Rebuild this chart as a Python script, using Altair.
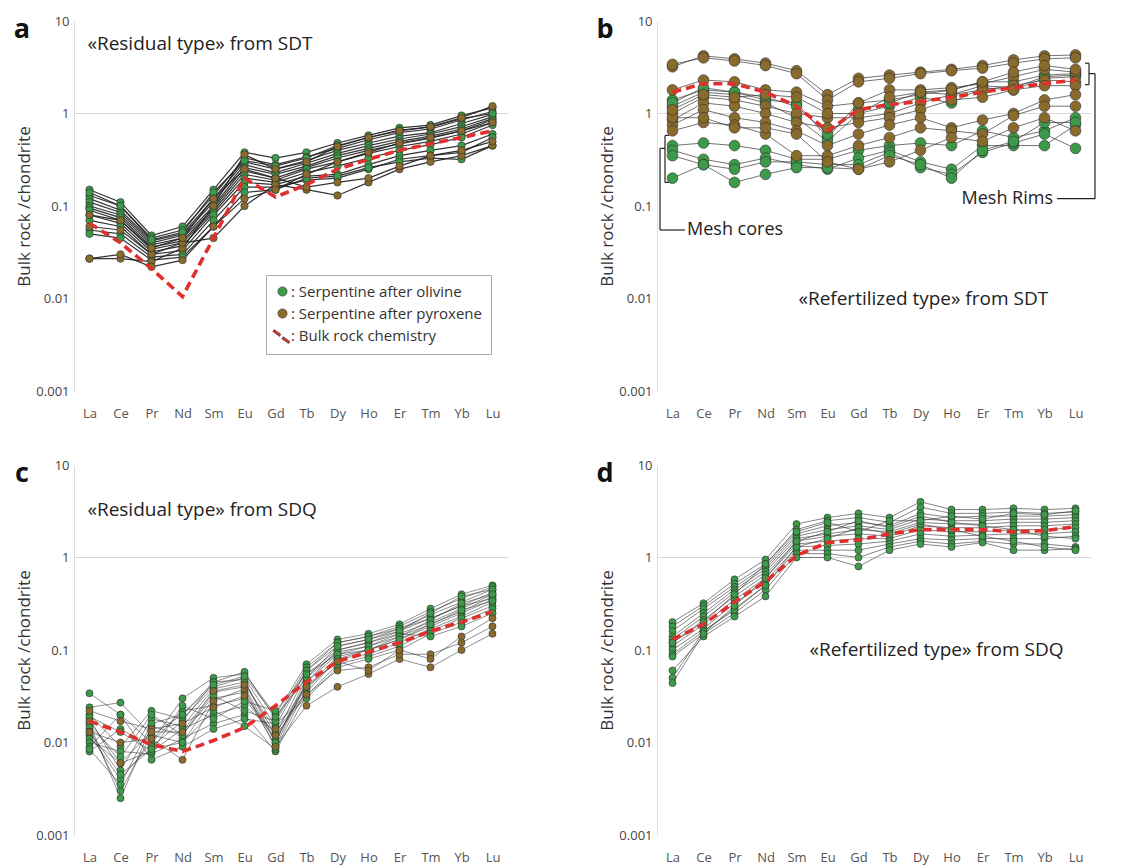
import altair as alt
import pandas as pd

FONT = "Open Sans"
REE = ["La", "Ce", "Pr", "Nd", "Sm", "Eu", "Gd", "Tb", "Dy", "Ho", "Er", "Tm", "Yb", "Lu"]
LAB_OL = "Serpentine after olivine"
LAB_PX = "Serpentine after pyroxene"
LAB_BULK = "Bulk rock chemistry"
GREEN = "#3d9a49"
BROWN = "#8a6b2e"
RED = "#e0302e"
DASH_PATH = ("M-1.8,-1.3 L-0.35,-0.25 L-0.65,0.2 L-2.1,-0.85 Z "
             "M0.15,0.25 L1.6,1.3 L1.3,1.75 L-0.15,0.7 Z")

# ---------------- panel a : «Residual type» from SDT ----------------
A_OL = [
    [0.15, 0.11, 0.048, 0.06, 0.15, 0.38, 0.33, 0.38, 0.48, 0.58, 0.70, 0.75, 0.95, 1.15],
    [0.13, 0.10, 0.045, 0.055, 0.13, 0.33, 0.28, 0.34, 0.42, 0.52, 0.62, 0.68, 0.85, 1.05],
    [0.12, 0.09, 0.042, 0.05, 0.12, 0.30, 0.25, 0.31, 0.40, 0.48, 0.57, 0.62, 0.78, 0.98],
    [0.11, 0.085, 0.04, 0.048, 0.11, 0.28, 0.23, 0.29, 0.37, 0.45, 0.53, 0.60, 0.72, 0.92],
    [0.10, 0.08, 0.038, 0.045, 0.10, 0.26, 0.22, 0.27, 0.35, 0.42, 0.50, 0.57, 0.68, 0.88],
    [0.095, 0.075, 0.036, 0.042, 0.095, 0.24, 0.20, 0.26, 0.33, 0.40, 0.47, 0.54, 0.65, 0.85],
    [0.09, 0.07, 0.034, 0.04, 0.09, 0.22, 0.19, 0.25, 0.30, 0.37, 0.44, 0.50, 0.60, 0.80],
    [0.08, 0.065, 0.032, 0.037, 0.085, 0.20, 0.18, 0.23, 0.27, 0.33, 0.40, 0.46, 0.55, 0.75],
    [0.07, 0.06, 0.030, 0.033, 0.08, 0.18, 0.17, 0.21, 0.22, 0.28, 0.35, 0.40, 0.45, 0.60],
    [0.055, 0.05, 0.028, 0.03, 0.07, 0.16, 0.16, 0.19, 0.20, 0.25, 0.32, 0.35, 0.38, 0.55],
    [0.05, 0.045, 0.026, 0.028, 0.06, 0.14, 0.15, 0.20, 0.21, 0.26, 0.30, 0.33, 0.32, 0.45],
    [0.14, 0.10, 0.043, 0.052, 0.14, 0.31, 0.27, 0.33, 0.45, 0.55, 0.66, 0.71, 0.88, 1.00],
]
A_PX = [
    [0.027, 0.027, 0.025, 0.035, 0.10, 0.36, 0.25, 0.30, 0.44, 0.55, 0.65, 0.72, 0.90, 1.20],
    [0.06, 0.055, 0.03, 0.04, 0.045, 0.10, 0.17, 0.15, 0.13, 0.18, 0.25, 0.30, 0.35, 0.45],
    [0.08, 0.07, 0.035, 0.045, 0.12, 0.25, 0.20, 0.16, 0.18, 0.20, 0.27, 0.35, 0.40, 0.50],
    [0.027, 0.03, 0.022, 0.026, 0.06, 0.12, 0.15, 0.22, 0.30, 0.38, 0.48, 0.55, 0.65, 0.80],
]
A_BULK = [0.065, 0.04, 0.021, 0.0105, 0.045, 0.2, 0.125, 0.17, 0.25, 0.32, 0.4, 0.47, 0.55, 0.65]

# ---------------- panel b : «Refertilized type» from SDT ----------------
B_OL = [
    [1.4, 1.8, 1.7, 1.4, 1.3, 0.55, 1.3, 1.4, 1.6, 1.8, 2.2, 2.2, 2.6, 2.7],
    [1.2, 1.7, 1.6, 1.3, 0.9, 0.5, 1.0, 1.2, 1.5, 1.3, 1.9, 1.8, 2.4, 2.5],
    [1.3, 1.9, 1.7, 1.5, 1.2, 0.6, 1.1, 1.3, 1.7, 1.6, 2.0, 1.9, 2.5, 2.6],
    [0.45, 0.48, 0.45, 0.40, 0.32, 0.32, 0.40, 0.45, 0.48, 0.45, 0.65, 0.55, 0.65, 0.9],
    [0.40, 0.32, 0.28, 0.33, 0.28, 0.25, 0.33, 0.40, 0.30, 0.25, 0.45, 0.45, 0.45, 0.75],
    [0.35, 0.28, 0.25, 0.30, 0.30, 0.28, 0.28, 0.38, 0.26, 0.22, 0.38, 0.48, 0.60, 0.42],
    [0.20, 0.28, 0.18, 0.22, 0.26, 0.26, 0.25, 0.35, 0.28, 0.20, 0.40, 0.50, 0.80, 0.80],
]
B_PX = [
    [3.2, 4.2, 3.9, 3.5, 2.9, 1.6, 2.4, 2.6, 2.8, 3.0, 3.3, 3.8, 4.2, 4.3],
    [3.4, 4.0, 3.7, 3.3, 2.7, 1.4, 2.2, 2.4, 2.7, 2.9, 3.1, 3.5, 3.9, 4.0],
    [1.8, 2.3, 2.2, 1.8, 1.7, 1.2, 1.3, 1.8, 1.8, 1.9, 2.1, 2.5, 3.0, 2.8],
    [1.0, 1.5, 1.4, 1.2, 1.0, 0.9, 0.9, 1.0, 1.3, 1.6, 1.8, 2.0, 2.3, 2.2],
    [0.85, 1.3, 1.2, 1.0, 0.8, 0.7, 0.8, 0.9, 1.1, 1.4, 1.5, 1.8, 2.0, 2.0],
    [0.75, 1.1, 0.9, 0.8, 0.65, 0.45, 0.6, 0.75, 0.9, 0.7, 0.85, 1.0, 1.4, 1.6],
    [0.65, 0.8, 0.75, 0.6, 0.35, 0.35, 0.45, 0.55, 0.7, 0.65, 0.6, 0.95, 1.2, 1.2],
    [0.9, 0.9, 0.7, 0.7, 0.6, 0.3, 0.25, 0.3, 0.4, 0.55, 0.5, 0.7, 0.9, 0.65],
    [1.1, 1.6, 1.5, 1.6, 1.5, 1.0, 1.0, 1.5, 1.7, 1.8, 2.2, 2.8, 3.3, 3.0],
]
B_BULK = [1.7, 2.1, 2.1, 1.7, 1.2, 0.65, 1.1, 1.25, 1.35, 1.5, 1.7, 1.9, 2.1, 2.3]

# ---------------- panel c : «Residual type» from SDQ ----------------
C_OL = [
    [0.034, 0.020, 0.010, 0.030, 0.050, 0.055, 0.020, 0.070, 0.13, 0.15, 0.19, 0.28, 0.40, 0.50],
    [0.024, 0.027, 0.012, 0.020, 0.045, 0.058, 0.018, 0.065, 0.12, 0.14, 0.18, 0.26, 0.36, 0.48],
    [0.020, 0.009, 0.022, 0.018, 0.040, 0.050, 0.015, 0.060, 0.11, 0.13, 0.17, 0.24, 0.33, 0.45],
    [0.018, 0.005, 0.018, 0.015, 0.038, 0.045, 0.012, 0.055, 0.10, 0.12, 0.16, 0.22, 0.30, 0.42],
    [0.016, 0.0025, 0.015, 0.012, 0.035, 0.040, 0.010, 0.050, 0.095, 0.11, 0.15, 0.20, 0.28, 0.40],
    [0.014, 0.003, 0.012, 0.010, 0.030, 0.035, 0.009, 0.045, 0.09, 0.10, 0.14, 0.19, 0.26, 0.38],
    [0.012, 0.004, 0.010, 0.022, 0.025, 0.030, 0.011, 0.040, 0.085, 0.10, 0.13, 0.18, 0.25, 0.35],
    [0.011, 0.006, 0.008, 0.014, 0.020, 0.025, 0.013, 0.035, 0.08, 0.09, 0.12, 0.17, 0.23, 0.33],
    [0.010, 0.008, 0.0075, 0.011, 0.016, 0.020, 0.008, 0.032, 0.07, 0.085, 0.11, 0.16, 0.22, 0.30],
    [0.009, 0.020, 0.0065, 0.009, 0.014, 0.018, 0.016, 0.030, 0.065, 0.08, 0.10, 0.15, 0.20, 0.28],
    [0.008, 0.014, 0.009, 0.017, 0.045, 0.048, 0.010, 0.045, 0.10, 0.12, 0.15, 0.14, 0.18, 0.25],
    [0.015, 0.007, 0.020, 0.012, 0.032, 0.022, 0.017, 0.060, 0.12, 0.14, 0.17, 0.22, 0.30, 0.36],
    [0.0085, 0.0035, 0.016, 0.020, 0.042, 0.052, 0.019, 0.050, 0.11, 0.13, 0.16, 0.25, 0.38, 0.45],
    [0.019, 0.013, 0.008, 0.025, 0.018, 0.028, 0.022, 0.055, 0.09, 0.11, 0.14, 0.21, 0.32, 0.40],
    [0.013, 0.0045, 0.0085, 0.010, 0.022, 0.015, 0.0085, 0.038, 0.08, 0.10, 0.13, 0.19, 0.27, 0.34],
]
C_PX = [
    [0.013, 0.010, 0.011, 0.0065, 0.028, 0.038, 0.009, 0.025, 0.04, 0.055, 0.08, 0.065, 0.10, 0.15],
    [0.022, 0.017, 0.014, 0.016, 0.024, 0.032, 0.012, 0.033, 0.06, 0.065, 0.09, 0.09, 0.12, 0.18],
    [0.017, 0.006, 0.013, 0.013, 0.036, 0.042, 0.014, 0.040, 0.075, 0.06, 0.10, 0.08, 0.14, 0.22],
]
C_BULK = [0.017, 0.013, 0.0095, 0.008, 0.0105, 0.0145, 0.025, 0.045, 0.075, 0.095, 0.12, 0.16, 0.2, 0.26]

# ---------------- panel d : «Refertilized type» from SDQ ----------------
D_OL = [
    [0.20, 0.32, 0.58, 0.95, 2.3, 2.7, 3.0, 2.7, 4.0, 3.3, 3.3, 3.4, 3.3, 3.4],
    [0.18, 0.30, 0.52, 0.85, 2.0, 2.5, 2.7, 2.4, 3.5, 3.0, 3.0, 3.1, 3.0, 3.1],
    [0.16, 0.28, 0.48, 0.80, 1.8, 2.2, 2.4, 2.2, 3.0, 2.7, 2.8, 2.8, 2.8, 2.9],
    [0.14, 0.25, 0.45, 0.75, 1.7, 2.0, 2.2, 2.0, 2.6, 2.5, 2.5, 2.6, 2.6, 2.7],
    [0.13, 0.23, 0.42, 0.70, 1.6, 1.8, 2.0, 1.9, 2.4, 2.3, 2.3, 2.4, 2.4, 2.5],
    [0.12, 0.21, 0.38, 0.65, 1.5, 1.7, 1.8, 1.7, 2.2, 2.1, 2.1, 2.2, 2.2, 2.3],
    [0.11, 0.19, 0.35, 0.60, 1.4, 1.5, 1.6, 1.6, 2.0, 1.9, 1.9, 2.0, 2.0, 2.1],
    [0.10, 0.17, 0.32, 0.55, 1.3, 1.35, 1.4, 1.5, 1.8, 1.7, 1.75, 1.8, 1.8, 1.9],
    [0.09, 0.16, 0.28, 0.50, 1.2, 1.2, 1.2, 1.4, 1.6, 1.55, 1.6, 1.6, 1.6, 1.7],
    [0.085, 0.15, 0.25, 0.45, 1.1, 1.1, 1.0, 1.3, 1.5, 1.4, 1.5, 1.4, 1.4, 1.3],
    [0.06, 0.14, 0.23, 0.38, 1.0, 1.0, 0.8, 1.2, 1.4, 1.3, 1.45, 1.2, 1.2, 1.25],
    [0.05, 0.16, 0.27, 0.50, 1.3, 1.6, 2.1, 1.8, 2.3, 2.0, 1.7, 1.5, 1.3, 1.2],
    [0.044, 0.15, 0.30, 0.60, 1.5, 1.9, 2.5, 2.1, 2.8, 2.4, 2.2, 2.0, 1.7, 1.6],
    [0.12, 0.20, 0.40, 0.85, 1.9, 2.4, 1.9, 2.5, 2.5, 2.8, 2.6, 3.0, 2.9, 3.2],
]
D_PX = []
D_BULK = [0.13, 0.19, 0.33, 0.55, 1.05, 1.45, 1.55, 1.8, 2.0, 2.0, 2.0, 1.9, 1.95, 2.15]

W, H = 434, 370

xscale = alt.Scale(domain=REE, type="point", padding=0.5)
yscale = alt.Scale(type="log", domain=[0.001, 10], nice=False)
xaxis = alt.Axis(title=None, domain=False, ticks=False, labelAngle=0, labelPadding=16,
                 labelFontSize=13, labelFont=FONT, labelColor="#555", grid=False)
yaxis = alt.Axis(title="Bulk rock /chondrite", values=[0.001, 0.01, 0.1, 1, 10], format="~g",
                 domainColor="#dcdcdc", ticks=False, grid=False, labelFontSize=13, labelFont=FONT,
                 labelColor="#444", labelPadding=5, titleFont=FONT, titleFontSize=17,
                 titleFontWeight="normal", titleColor="#333", titlePadding=2)
cscale = alt.Scale(domain=[LAB_OL, LAB_PX, LAB_BULK], range=[GREEN, BROWN, RED])
sscale = alt.Scale(domain=[LAB_OL, LAB_PX, LAB_BULK], range=["circle", "circle", DASH_PATH])

SEG_B = [
    (8, 8, 0.58, 0.18), (8, 12, 0.58, 0.58), (8, 12, 0.18, 0.18),
    (3, 8, 0.42, 0.42), (3, 3, 0.42, 0.055), (3, 28, 0.055, 0.055),
    (432, 432, 3.5, 2.05), (428, 432, 3.5, 3.5), (428, 432, 2.05, 2.05),
    (432, 438, 2.7, 2.7), (438, 438, 2.7, 0.12), (400, 438, 0.12, 0.12),
]
SEG_TEXT = [("Mesh cores", 30, 0.055, "left"), ("Mesh Rims", 396, 0.12, "right")]


def panel(letter, ol, px, bulk, pt_size, line_color, line_w, line_op, texts, segments, seg_text, legend):
    rows = []
    for kind, lines, tag in ((LAB_OL, ol, "o"), (LAB_PX, px, "p")):
        for i, vals in enumerate(lines):
            for j, (el, v) in enumerate(zip(REE, vals)):
                rows.append({"s": f"{tag}{i}", "el": el, "idx": j, "v": v, "t": kind})
    df = pd.DataFrame(rows)
    bdf = pd.DataFrame({"el": REE, "idx": list(range(len(REE))), "v": bulk})
    x = alt.X("el:N", scale=xscale, axis=xaxis)
    y = alt.Y("v:Q", scale=yscale, axis=yaxis)

    grid = alt.Chart(pd.DataFrame({"v": [1]})).mark_rule(color="#d8d8d8", strokeWidth=1).encode(y=y)
    lines = alt.Chart(df).mark_line(color=line_color, strokeWidth=line_w, opacity=line_op).encode(
        x=x, y=y, detail="s:N", order="idx:Q")
    if legend:
        leg = alt.Legend(orient="none", legendX=192, legendY=254, title=None,
                         labelExpr="': ' + datum.label", labelFontSize=15, labelFont=FONT,
                         labelColor="#333", labelLimit=0, symbolSize=85, strokeColor="#aaa",
                         padding=9, rowPadding=6, fillColor="white", symbolStrokeWidth=0.6,
                         labelOffset=1)
    else:
        leg = None
    pts = alt.Chart(df).mark_point(filled=True, size=pt_size, stroke="#2b2b2b", strokeWidth=0.6,
                                   opacity=1).encode(
        x=x, y=y,
        color=alt.Color("t:N", scale=cscale, legend=leg),
        shape=alt.Shape("t:N", scale=sscale, legend=leg))
    bl = alt.Chart(bdf).mark_line(color=RED, strokeWidth=3.6, strokeDash=[9, 5]).encode(
        x=x, y=y, order="idx:Q")
    layers = [grid, lines, pts, bl]

    lt = alt.Chart(pd.DataFrame({"t": [letter]})).mark_text(
        font=FONT, fontSize=27, fontWeight="bold", align="center", baseline="alphabetic",
        color="#111").encode(x=alt.value(-52), y=alt.value(17), text="t:N")
    layers.append(lt)

    for (label, el, v, align, dx, fs) in texts:
        layers.append(alt.Chart(pd.DataFrame({"el": [el], "v": [v], "t": [label]})).mark_text(
            font=FONT, fontSize=fs, align=align, baseline="middle", dx=dx, color="#222").encode(
            x=x, y=y, text="t:N"))
    for (x1, x2, y1, y2) in segments:
        layers.append(alt.Chart(pd.DataFrame({"v": [y1], "v2": [y2]})).mark_rule(
            color="#222", strokeWidth=1.2).encode(
            x=alt.value(x1), x2=alt.value(x2), y=y, y2="v2:Q"))
    for (label, px_x, v, align) in seg_text:
        layers.append(alt.Chart(pd.DataFrame({"v": [v], "t": [label]})).mark_text(
            font=FONT, fontSize=18, align=align, baseline="middle", color="#222").encode(
            x=alt.value(px_x), y=y, text="t:N"))
    return alt.layer(*layers).properties(width=W, height=H)


pa = panel("a", A_OL, A_PX, A_BULK, 55, "#1e1e1e", 1.2, 0.9,
           [("«Residual type» from SDT", "La", 5.7, "left", -2, 19)], [], [], True)
pb = panel("b", B_OL, B_PX, B_BULK, 115, "#3a3a3a", 0.9, 0.8,
           [("«Refertilized type» from SDT", "Sm", 0.01, "left", 2, 19)], SEG_B, SEG_TEXT, False)
pc = panel("c", C_OL, C_PX, C_BULK, 50, "#2a2a2a", 0.7, 0.75,
           [("«Residual type» from SDQ", "La", 3.3, "left", -2, 19)], [], [], False)
pd_ = panel("d", D_OL, D_PX, D_BULK, 50, "#333333", 0.8, 0.75,
            [("«Refertilized type» from SDQ", "Sm", 0.1, "left", 13, 19)], [], [], False)

row1 = alt.hconcat(pa, pb, spacing=87).resolve_scale(color="independent", shape="independent")
row2 = alt.hconcat(pc, pd_, spacing=87).resolve_scale(color="independent", shape="independent")
chart = alt.vconcat(row1, row2, spacing=39).resolve_scale(
    color="independent", shape="independent").configure_view(stroke=None).properties(
    background="white", padding={"left": 5, "top": 7, "right": 5, "bottom": 5})

chart.save("out.html", embed_options={"renderer": "svg", "actions": False})
